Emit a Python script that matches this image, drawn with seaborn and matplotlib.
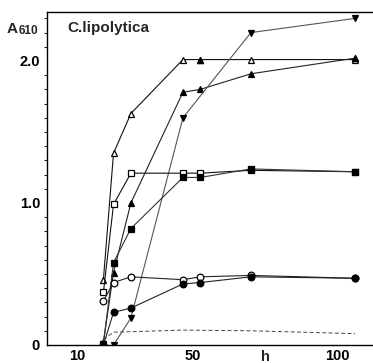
import numpy as np
import pandas as pd
import matplotlib
matplotlib.use("Agg")
import matplotlib.pyplot as plt
import seaborn as sns

# hours of sampling
hours = [19, 22.5, 28.5, 46.5, 52.5, 70, 106]

# A610 readings per culture (None = not measured)
open_tri = [0.46, 1.35, 1.63, 2.01, 2.01, 2.01, 2.01]
filled_tri = [0.02, 0.51, 1.00, 1.78, 1.80, 1.91, 2.02]
inv_tri = [None, 0.00, 0.19, 1.60, None, 2.20, 2.30]
open_sq = [0.37, 0.99, 1.21, 1.21, 1.21, 1.23, 1.22]
filled_sq = [0.01, 0.58, 0.82, 1.18, 1.18, 1.24, 1.22]
open_circ = [0.31, 0.44, 0.48, 0.46, 0.48, 0.49, 0.47]
filled_circ = [0.00, 0.23, 0.26, 0.43, 0.44, 0.48, 0.47]
dashed = [0.04, 0.09, None, 0.105, None, 0.10, 0.08]

# filled overlay marker on the top series
top_filled_h = [52.5, 106]
top_filled_a = [2.01, 2.02]

x_labels = {10: "10", 50: "50", 100: "100"}
y_labels = {0: "0", 1.0: "1.0", 2.0: "2.0"}

sns.set_style("white")
plt.rcParams["font.family"] = ["Liberation Sans", "DejaVu Sans"]

fig = plt.figure(figsize=(3.73, 3.63), dpi=100)
ax = fig.add_axes([47 / 373, 1 - 345 / 363, 1 - 47 / 373 + 0.01, (345 - 12) / 363])

series = [
    (open_tri, "^", "white", "-", "#111111"),
    (filled_tri, "^", "black", "-", "#222222"),
    (inv_tri, "v", "black", "-", "#555555"),
    (open_sq, "s", "white", "-", "#111111"),
    (filled_sq, "s", "black", "-", "#333333"),
    (open_circ, "o", "white", "-", "#222222"),
    (filled_circ, "o", "black", "-", "#222222"),
]

for vals, mk, fc, ls, col in series:
    df = pd.DataFrame({"h": hours, "A": vals}).dropna()
    sns.lineplot(data=df, x="h", y="A", ax=ax, color=col, lw=0.8,
                 marker=mk, markersize=4.8, markerfacecolor=fc,
                 markeredgecolor="black", markeredgewidth=0.9, linestyle=ls)

df = pd.DataFrame({"h": hours, "A": dashed}).dropna()
sns.lineplot(data=df, x="h", y="A", ax=ax, color="#444444", lw=0.7,
             linestyle=(0, (4, 2.5)))

sns.scatterplot(x=top_filled_h, y=top_filled_a, ax=ax, marker="^", s=24,
                color="black", edgecolor="black", zorder=5)

ax.set_xlim(-0.5, 113.5)
ax.set_ylim(0, 2.345)
ax.set_xlabel("")
ax.set_ylabel("")

ax.set_xticks(np.arange(0, 120, 10))
ax.set_xticklabels([x_labels.get(int(v), "") for v in np.arange(0, 120, 10)])
ax.set_yticks(list(y_labels.keys()))
ax.set_yticklabels(list(y_labels.values()))
ax.set_yticks(np.arange(0, 2.35, 0.1), minor=True)

ax.tick_params(axis="both", direction="in", labelsize=10.5, colors="black")
ax.tick_params(axis="y", which="major", length=4, width=0.9, pad=5)
ax.tick_params(axis="y", which="minor", length=2.5, width=0.8, left=True)
ax.tick_params(axis="x", which="major", length=3, width=0.8, pad=3)
for lab in ax.get_xticklabels() + ax.get_yticklabels():
    lab.set_fontweight("bold")

for side in ["left", "top", "bottom"]:
    ax.spines[side].set_color("black")
    ax.spines[side].set_linewidth(1.0)
ax.spines["right"].set_visible(False)

ax.text(75, -0.035, "h", ha="center", va="top", fontsize=10.5, fontweight="bold")
fig.text(7 / 373, 1 - 33 / 363, "A", fontsize=11, fontweight="bold", va="baseline")
fig.text(19 / 373, 1 - 34 / 363, "610", fontsize=8.5, fontweight="bold", va="baseline")
fig.text(67 / 373, 1 - 32 / 363, "C.lipolytica", fontsize=11, fontweight="bold", va="baseline")

fig.savefig("out.png", dpi=100)
